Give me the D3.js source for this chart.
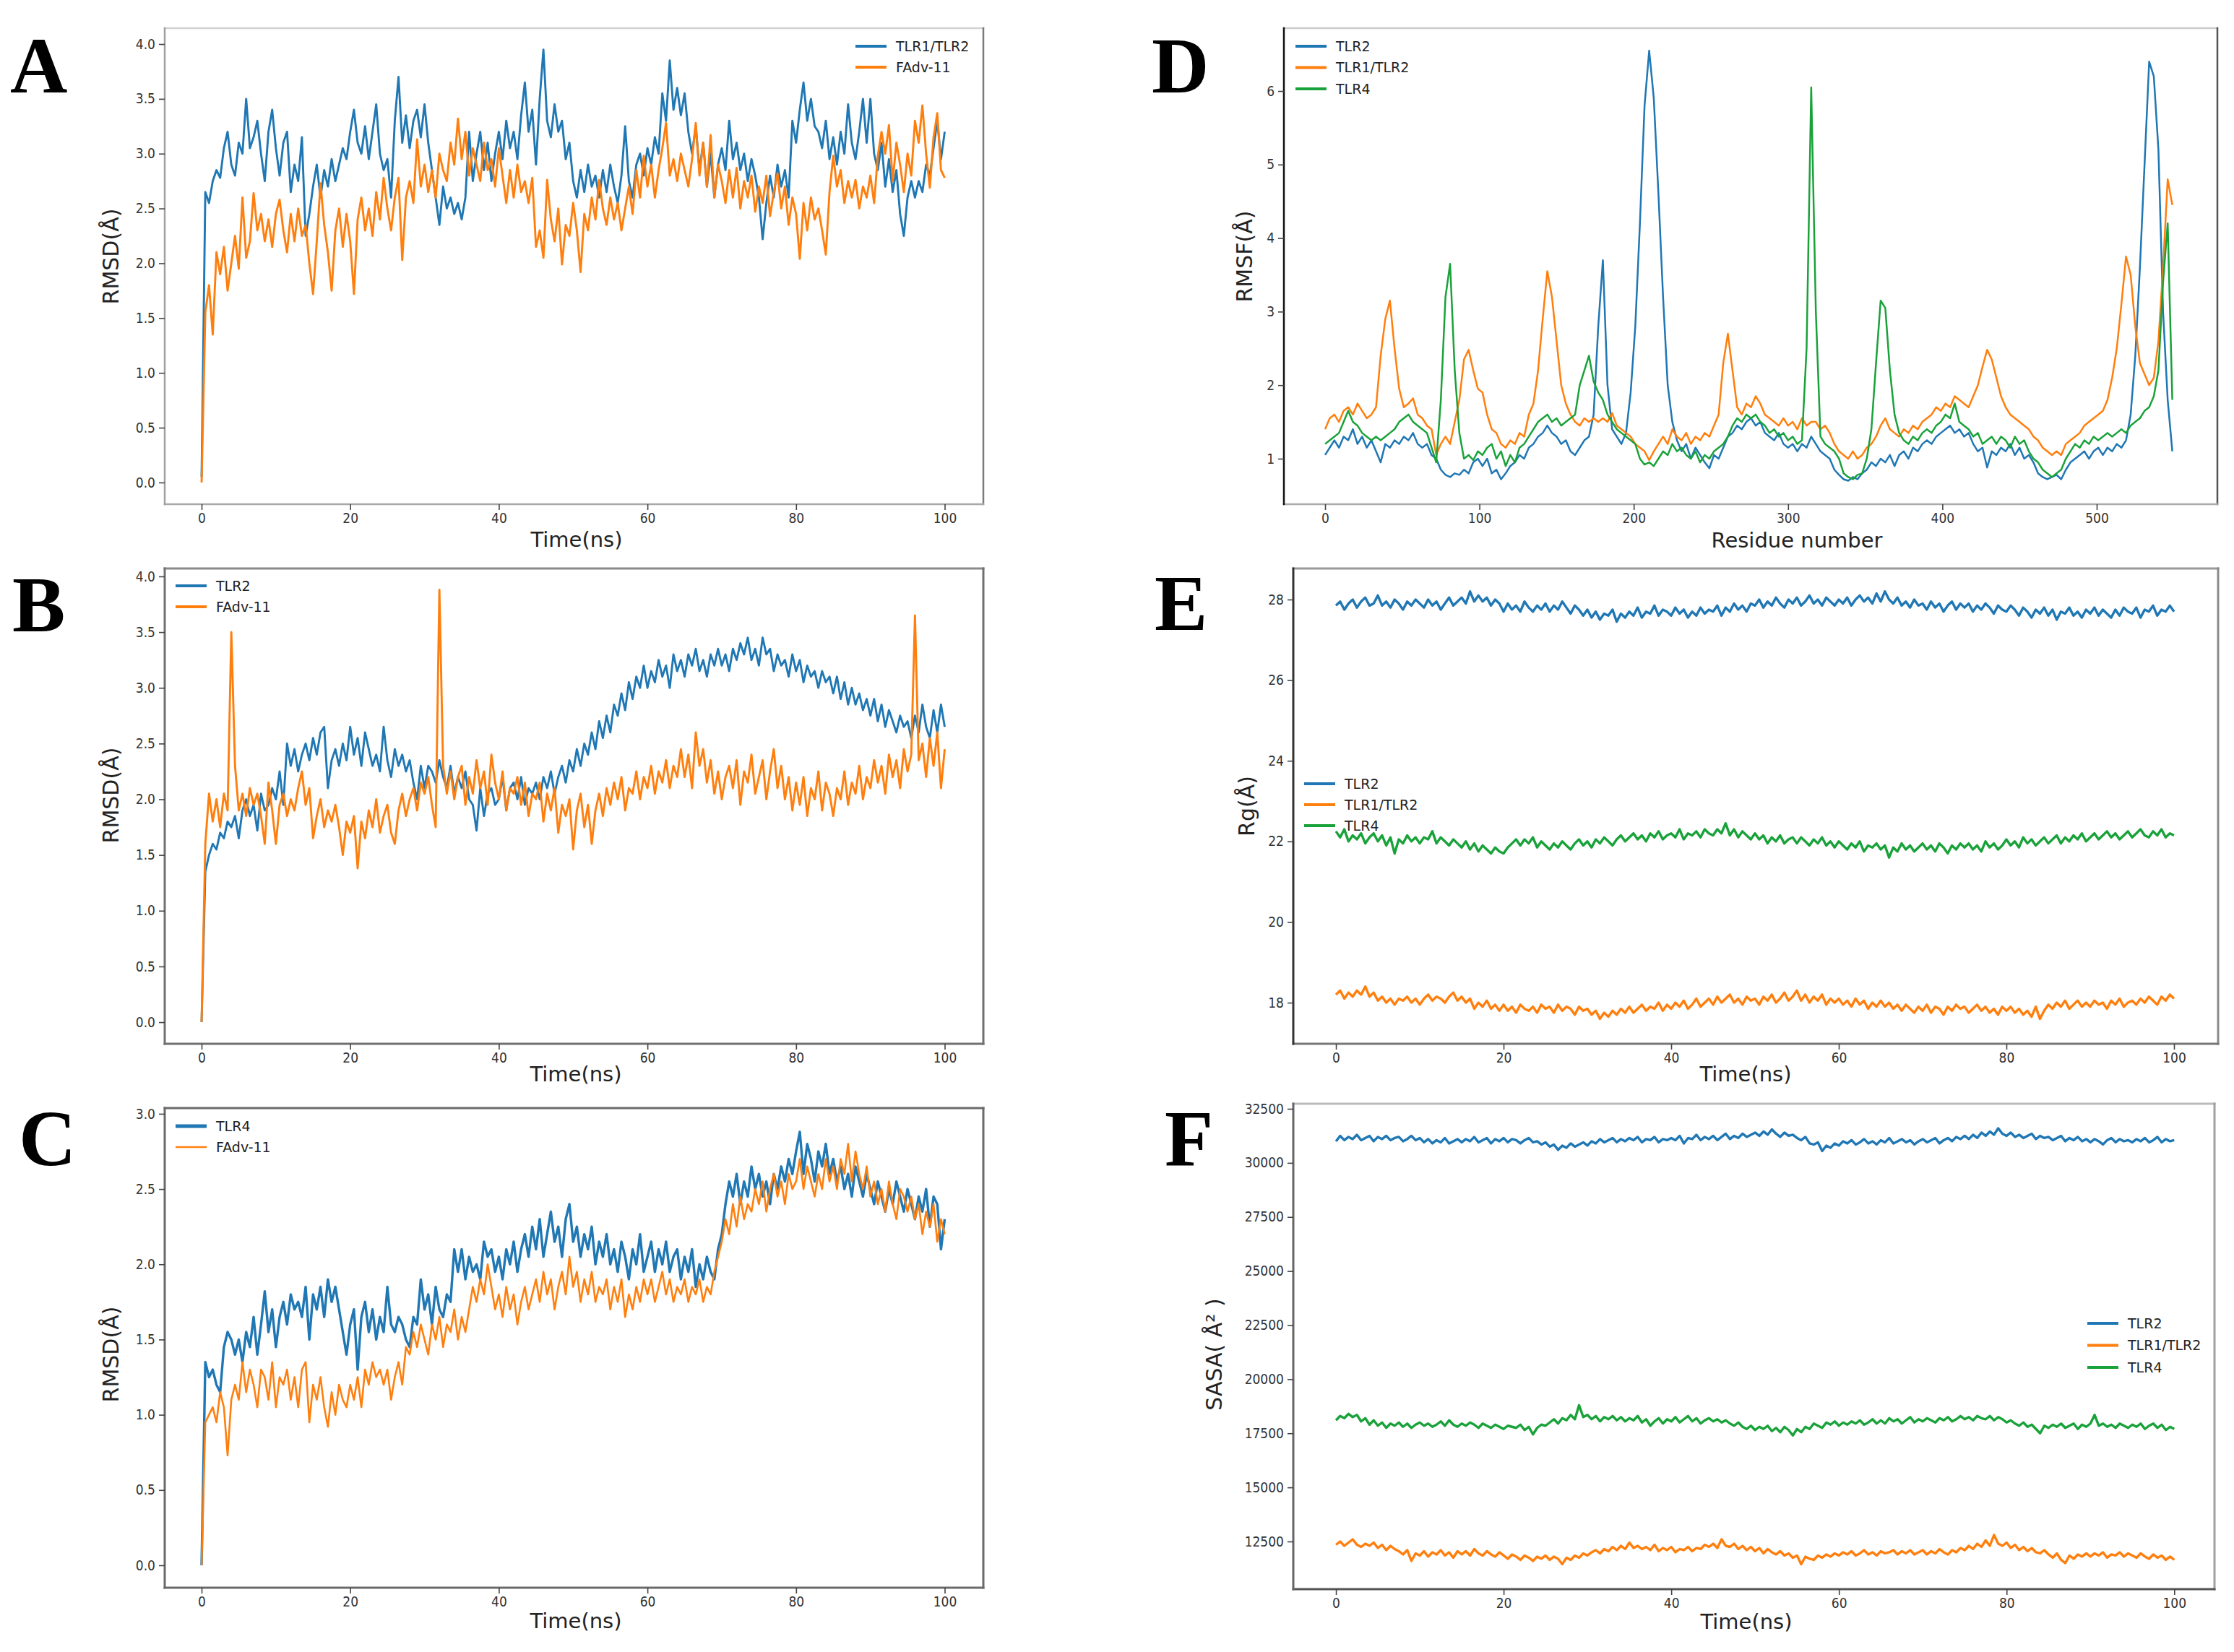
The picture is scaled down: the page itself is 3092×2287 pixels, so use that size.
<!DOCTYPE html>
<html>
<head>
<meta charset="utf-8">
<script src="https://cdn.jsdelivr.net/npm/d3@7"></script>
<style>
  body { margin: 0; background: #fff; }
  svg { display: block; background: #fff; }
</style>
</head>
<body>
<svg id="fig" width="3092" height="2287"></svg>
<script>
// MD trajectory figure: RMSD (A-C), RMSF (D), Rg (E), SASA (F)

/* ---------- Data ---------- */

// sampling grids
const timeStep = 0.5;      // ns, panels A B C E F
const residueStep = 3;     // panel D

// A: RMSD, TLR1/TLR2 vs FAdv-11
const rmsdA_tlr12 = [
  0.05,2.65,2.55,2.75,2.85,2.78,3.05,3.2,2.9,2.8,
  3.1,3.0,3.5,3.05,3.15,3.3,3.0,2.75,3.2,3.4,
  3.05,2.8,3.1,3.2,2.65,2.9,2.75,3.15,2.25,2.45,
  2.7,2.9,2.6,2.85,2.7,2.95,2.75,2.9,3.05,2.95,
  3.2,3.4,3.1,3.0,3.25,2.95,3.2,3.45,3.0,2.85,
  2.95,2.6,3.3,3.7,3.1,3.35,3.05,3.3,3.4,3.15,
  3.45,3.1,2.85,2.6,2.35,2.7,2.5,2.6,2.45,2.55,
  2.4,2.6,3.2,2.75,3.0,3.2,2.85,3.1,2.75,3.0,
  3.2,2.95,3.3,3.05,3.2,2.95,3.35,3.65,3.2,3.4,
  2.9,3.5,3.95,3.3,3.15,3.45,3.2,3.3,2.95,3.1,
  2.75,2.6,2.85,2.65,2.9,2.7,2.8,2.6,2.85,2.65,
  2.9,2.7,2.55,2.8,3.25,2.75,2.6,2.9,3.0,2.8,
  3.05,2.9,3.15,3.0,3.55,3.3,3.85,3.4,3.6,3.35,
  3.55,3.2,3.0,3.25,2.85,3.1,2.7,3.0,2.6,2.9,
  3.05,2.85,3.3,2.95,3.1,2.85,3.0,2.75,2.95,2.8,
  2.6,2.22,2.55,2.8,2.6,2.9,2.7,2.85,2.6,3.3,
  3.1,3.4,3.65,3.3,3.5,3.25,3.2,3.05,3.3,2.95,
  3.15,2.9,3.2,3.0,3.45,3.1,2.95,3.2,3.5,3.1,
  3.5,3.0,2.85,3.1,2.7,2.95,2.65,2.85,2.45,2.25,
  2.6,2.75,2.6,2.75,2.65,2.9,2.8,3.05,3.3,2.95,
  3.2];
const rmsdA_fadv = [
  0.0,1.55,1.8,1.35,2.1,1.9,2.15,1.75,2.0,2.25,
  1.95,2.6,2.05,2.2,2.64,2.3,2.45,2.2,2.4,2.15,
  2.45,2.58,2.3,2.1,2.45,2.2,2.5,2.25,2.35,2.0,
  1.72,2.2,2.73,2.35,2.1,1.75,2.3,2.5,2.15,2.45,
  2.2,1.72,2.4,2.6,2.3,2.5,2.25,2.65,2.4,2.78,
  2.5,2.3,2.6,2.78,2.03,2.6,2.75,2.55,3.13,2.7,
  2.9,2.65,2.85,2.6,3.0,2.85,2.75,3.1,2.9,3.32,
  2.95,3.2,2.8,3.05,2.9,2.75,3.1,2.85,2.95,2.7,
  3.05,2.8,2.55,2.85,2.6,2.9,2.65,2.75,2.55,2.78,
  2.15,2.3,2.05,2.76,2.4,2.2,2.5,1.99,2.35,2.25,
  2.55,2.3,1.92,2.45,2.3,2.6,2.4,2.76,2.5,2.35,
  2.6,2.4,2.55,2.3,2.5,2.7,2.45,2.85,2.6,2.98,
  2.7,2.9,2.6,2.85,3.05,3.28,2.8,2.95,2.75,3.0,
  2.85,2.7,2.95,3.28,2.8,3.1,2.7,3.17,2.6,2.9,
  2.75,2.55,2.85,2.6,2.87,2.5,2.75,2.6,2.8,2.47,
  2.7,2.55,2.8,2.43,2.65,2.82,2.5,2.7,2.35,2.6,
  2.45,2.04,2.55,2.3,2.6,2.4,2.5,2.3,2.08,2.65,
  2.98,2.7,2.85,2.55,2.75,2.6,2.76,2.5,2.7,2.6,
  2.8,2.55,2.98,3.2,3.0,3.26,2.75,3.1,2.9,2.65,
  3.0,2.8,3.3,3.1,3.44,3.0,2.69,3.15,3.37,2.85,
  2.78];

// B: RMSD, TLR2 vs FAdv-11
const rmsdB_tlr2 = [
  0.0,1.35,1.5,1.6,1.55,1.7,1.65,1.8,1.75,1.85,
  1.65,1.9,2.0,1.85,1.95,1.72,2.05,1.9,1.95,2.1,
  2.0,2.25,1.95,2.5,2.3,2.45,2.25,2.4,2.5,2.35,
  2.55,2.4,2.6,2.65,2.1,2.35,2.45,2.3,2.5,2.35,
  2.65,2.4,2.55,2.3,2.6,2.45,2.3,2.4,2.25,2.65,
  2.35,2.2,2.45,2.3,2.4,2.25,2.35,2.15,2.0,2.3,
  2.1,2.3,2.25,2.15,2.35,2.2,2.1,2.3,2.05,2.2,
  2.1,2.25,2.0,1.95,1.72,2.1,1.85,2.05,2.1,1.95,
  2.0,2.2,1.9,2.1,2.15,2.0,2.2,1.95,2.1,2.05,
  2.15,2.0,2.2,2.1,2.25,2.05,2.2,2.3,2.15,2.35,
  2.25,2.45,2.3,2.5,2.4,2.6,2.45,2.7,2.55,2.75,
  2.6,2.85,2.75,2.95,2.8,3.05,2.9,3.1,3.0,3.2,
  3.0,3.15,3.05,3.25,3.1,3.2,3.0,3.3,3.15,3.25,
  3.1,3.3,3.2,3.35,3.15,3.25,3.1,3.3,3.2,3.35,
  3.2,3.3,3.15,3.35,3.25,3.4,3.3,3.45,3.25,3.35,
  3.2,3.45,3.3,3.35,3.15,3.3,3.2,3.25,3.1,3.3,
  3.15,3.25,3.05,3.2,3.1,3.15,3.0,3.15,3.05,3.1,
  2.95,3.1,2.9,3.05,2.85,3.0,2.85,2.95,2.8,2.9,
  2.75,2.9,2.7,2.85,2.65,2.8,2.7,2.6,2.75,2.65,
  2.7,2.55,2.75,2.6,2.85,2.65,2.55,2.8,2.6,2.85,
  2.65];
const rmsdB_fadv = [
  0.0,1.6,2.05,1.8,2.0,1.75,2.05,1.9,3.5,2.3,
  1.9,2.05,1.85,2.1,1.95,2.05,1.85,1.6,2.15,1.9,
  1.6,1.95,2.05,1.85,2.0,1.9,2.1,2.25,1.95,2.1,
  1.65,1.85,2.0,1.75,1.9,1.8,1.95,1.75,1.5,1.8,
  1.7,1.85,1.38,1.8,1.65,1.9,1.75,2.0,1.7,1.85,
  1.95,1.7,1.6,1.9,2.05,1.85,2.0,2.1,1.9,2.15,
  2.05,2.2,1.95,1.75,3.88,2.3,2.05,2.25,2.0,2.2,
  2.3,1.95,2.2,2.05,2.35,2.1,2.25,1.95,2.4,2.15,
  2.0,2.25,1.9,2.1,2.05,2.2,1.95,2.15,1.85,2.05,
  2.0,2.15,1.8,2.05,1.9,2.1,1.7,1.95,1.85,2.0,
  1.55,1.9,2.05,1.75,1.95,1.6,1.9,2.05,1.85,2.1,
  1.95,2.15,2.0,2.2,1.9,2.1,2.05,2.25,2.0,2.2,
  2.1,2.3,2.05,2.25,2.15,2.35,2.1,2.3,2.2,2.45,
  2.2,2.4,2.1,2.6,2.3,2.45,2.15,2.35,2.05,2.25,
  2.0,2.2,2.3,2.1,2.35,1.95,2.25,2.15,2.4,2.05,
  2.2,2.35,2.0,2.25,2.45,2.1,2.3,2.0,2.2,1.9,
  2.15,1.95,2.2,1.85,2.1,2.0,2.25,1.9,2.15,2.05,
  1.85,2.1,2.0,2.25,1.95,2.15,2.05,2.3,2.0,2.2,
  2.1,2.35,2.15,2.3,2.05,2.4,2.2,2.35,2.1,2.45,
  2.25,2.4,3.65,2.35,2.5,2.2,2.55,2.3,2.6,2.1,
  2.45];

// C: RMSD, TLR4 vs FAdv-11
const rmsdC_tlr4 = [
  0.0,1.35,1.25,1.3,1.2,1.15,1.45,1.55,1.5,1.4,
  1.5,1.35,1.55,1.45,1.65,1.4,1.6,1.82,1.55,1.7,
  1.45,1.65,1.75,1.6,1.8,1.7,1.75,1.65,1.85,1.5,
  1.8,1.7,1.85,1.65,1.9,1.75,1.85,1.7,1.55,1.4,
  1.6,1.7,1.3,1.65,1.75,1.55,1.7,1.5,1.65,1.55,
  1.85,1.6,1.55,1.65,1.6,1.5,1.45,1.65,1.6,1.9,
  1.7,1.8,1.6,1.85,1.7,1.65,1.8,1.75,2.1,1.95,
  2.1,1.9,2.05,1.95,2.0,1.9,2.15,2.05,2.1,1.95,
  2.05,1.9,2.1,2.0,2.15,1.95,2.1,2.2,2.05,2.25,
  2.1,2.3,2.05,2.2,2.35,2.15,2.25,2.05,2.3,2.4,
  2.15,2.25,2.05,2.2,2.1,2.25,2.0,2.15,2.05,2.2,
  2.0,2.1,1.95,2.15,2.05,1.9,2.1,2.0,2.2,1.95,
  2.05,2.15,1.95,2.1,2.0,2.15,1.95,2.05,2.1,1.9,
  2.05,1.95,2.1,1.85,2.0,1.9,2.05,1.95,1.9,2.1,
  2.2,2.4,2.55,2.45,2.6,2.4,2.55,2.45,2.65,2.5,
  2.6,2.45,2.55,2.4,2.6,2.5,2.65,2.55,2.7,2.6,
  2.75,2.88,2.6,2.8,2.7,2.55,2.75,2.65,2.8,2.6,
  2.7,2.55,2.65,2.5,2.6,2.45,2.65,2.55,2.45,2.6,
  2.5,2.4,2.55,2.45,2.35,2.5,2.4,2.55,2.45,2.35,
  2.5,2.4,2.3,2.45,2.35,2.5,2.25,2.45,2.4,2.1,
  2.3];
const rmsdC_fadv = [
  0.0,0.95,1.0,1.05,0.95,1.15,1.05,0.73,1.1,1.2,
  1.1,1.35,1.15,1.3,1.2,1.05,1.3,1.25,1.1,1.35,
  1.05,1.25,1.2,1.3,1.1,1.25,1.05,1.3,1.35,0.95,
  1.2,1.1,1.25,1.05,0.92,1.15,1.0,1.2,1.1,1.05,
  1.2,1.1,1.25,1.05,1.3,1.2,1.35,1.25,1.3,1.2,
  1.3,1.1,1.25,1.35,1.2,1.45,1.4,1.55,1.45,1.6,
  1.5,1.4,1.6,1.5,1.65,1.45,1.6,1.55,1.7,1.5,
  1.65,1.55,1.7,1.85,1.75,1.9,1.8,2.0,1.85,1.7,
  1.8,1.65,1.85,1.7,1.8,1.6,1.75,1.85,1.7,1.8,
  1.9,1.75,1.95,1.8,1.9,1.7,1.85,1.95,1.8,2.05,
  1.85,1.95,1.75,1.9,1.8,1.95,1.75,1.85,1.8,1.9,
  1.7,1.85,1.75,1.9,1.65,1.8,1.7,1.85,1.75,1.9,
  1.8,1.9,1.75,1.85,1.95,1.8,1.9,1.75,1.85,1.8,
  1.9,1.75,1.85,1.8,1.9,1.75,1.85,1.8,1.95,2.05,
  2.15,2.3,2.2,2.4,2.25,2.45,2.3,2.4,2.35,2.5,
  2.4,2.55,2.35,2.5,2.6,2.45,2.55,2.4,2.6,2.5,
  2.55,2.7,2.5,2.65,2.55,2.45,2.6,2.5,2.7,2.55,
  2.65,2.5,2.7,2.6,2.8,2.55,2.75,2.6,2.5,2.65,
  2.45,2.55,2.4,2.5,2.35,2.55,2.4,2.3,2.5,2.45,
  2.35,2.45,2.3,2.4,2.2,2.35,2.25,2.4,2.15,2.3,
  2.2];

// D: RMSF per residue (every 3rd residue, 0..549)
const rmsf_tlr2 = [
  1.05,1.15,1.25,1.15,1.3,1.25,1.4,1.2,1.3,1.15,
  1.25,1.1,0.95,1.2,1.15,1.25,1.2,1.3,1.25,1.35,
  1.2,1.15,1.2,1.05,1.0,0.85,0.78,0.75,0.8,0.78,
  0.85,0.8,0.95,1.0,0.9,1.0,0.8,0.85,0.72,0.8,
  0.9,0.95,1.05,1.0,1.15,1.2,1.3,1.35,1.45,1.35,
  1.3,1.2,1.25,1.1,1.05,1.15,1.25,1.3,1.6,2.8,
  3.7,2.0,1.4,1.3,1.2,1.35,1.9,2.8,4.2,5.8,
  6.55,5.9,4.6,3.2,2.0,1.5,1.25,1.1,1.2,1.0,
  1.15,1.05,0.95,0.87,1.05,1.0,1.15,1.3,1.35,1.45,
  1.4,1.5,1.55,1.45,1.5,1.35,1.3,1.25,1.35,1.2,
  1.15,1.2,1.1,1.2,1.15,1.3,1.2,1.1,1.05,1.0,
  0.85,0.78,0.72,0.7,0.75,0.72,0.8,0.85,0.95,0.9,
  1.0,0.95,1.05,0.9,1.05,1.1,1.0,1.15,1.1,1.2,
  1.25,1.2,1.3,1.35,1.4,1.45,1.35,1.4,1.3,1.35,
  1.2,1.1,1.15,0.88,1.1,1.05,1.15,1.1,1.2,1.05,
  1.15,1.0,1.05,0.95,0.8,0.75,0.72,0.75,0.78,0.72,
  0.85,0.95,1.0,1.05,1.1,1.0,1.1,1.15,1.05,1.15,
  1.1,1.2,1.15,1.25,1.6,2.4,3.6,5.0,6.4,6.2,
  5.2,3.0,1.8,1.1];
const rmsf_tlr12 = [
  1.4,1.55,1.6,1.5,1.65,1.7,1.6,1.75,1.65,1.55,
  1.6,1.7,2.4,2.9,3.15,2.5,1.95,1.7,1.75,1.82,
  1.6,1.55,1.45,1.4,1.05,1.2,1.3,1.2,1.5,1.8,
  2.35,2.48,2.2,1.95,1.9,1.6,1.4,1.35,1.2,1.15,
  1.25,1.2,1.35,1.3,1.6,1.75,2.2,2.9,3.55,3.2,
  2.6,2.0,1.75,1.6,1.5,1.45,1.55,1.5,1.55,1.5,
  1.55,1.5,1.62,1.45,1.4,1.35,1.3,1.2,1.15,1.1,
  0.98,1.1,1.2,1.3,1.2,1.4,1.3,1.25,1.35,1.2,
  1.3,1.25,1.35,1.3,1.45,1.6,2.3,2.7,2.2,1.7,
  1.6,1.75,1.7,1.85,1.75,1.6,1.55,1.5,1.45,1.55,
  1.45,1.5,1.4,1.55,1.45,1.5,1.5,1.4,1.45,1.35,
  1.2,1.1,1.05,1.0,1.1,1.0,1.05,1.15,1.2,1.3,
  1.45,1.55,1.4,1.35,1.3,1.4,1.35,1.45,1.4,1.5,
  1.55,1.6,1.7,1.65,1.75,1.7,1.85,1.8,1.75,1.7,
  1.85,2.0,2.25,2.48,2.35,2.1,1.85,1.7,1.6,1.55,
  1.5,1.45,1.4,1.3,1.25,1.15,1.1,1.05,1.1,1.05,
  1.2,1.25,1.3,1.35,1.45,1.5,1.55,1.6,1.65,1.8,
  2.1,2.5,3.1,3.75,3.5,2.8,2.3,2.15,2.0,2.1,
  2.6,3.6,4.8,4.45];
const rmsf_tlr4 = [
  1.2,1.25,1.3,1.35,1.5,1.65,1.5,1.45,1.35,1.3,
  1.25,1.3,1.25,1.3,1.35,1.4,1.5,1.55,1.6,1.5,
  1.45,1.4,1.35,1.15,0.95,1.8,3.2,3.65,2.2,1.35,
  1.0,1.05,0.98,1.1,1.05,1.15,1.2,1.0,1.1,0.9,
  1.05,0.95,1.15,1.2,1.3,1.4,1.5,1.55,1.6,1.5,
  1.55,1.45,1.5,1.55,1.6,2.0,2.2,2.4,2.05,1.9,
  1.8,1.6,1.5,1.4,1.35,1.3,1.25,1.2,1.0,0.92,
  0.95,0.9,1.0,1.1,1.05,1.2,1.1,1.15,1.05,1.0,
  1.1,0.95,1.05,1.0,1.1,1.15,1.2,1.3,1.45,1.55,
  1.5,1.6,1.55,1.6,1.5,1.45,1.35,1.4,1.3,1.35,
  1.25,1.3,1.2,1.25,2.5,6.05,3.0,1.3,1.2,1.15,
  1.1,1.0,0.8,0.75,0.72,0.78,0.8,1.0,1.4,2.3,
  3.15,3.05,2.2,1.6,1.35,1.25,1.2,1.3,1.25,1.35,
  1.4,1.35,1.45,1.5,1.6,1.55,1.75,1.5,1.45,1.4,
  1.3,1.35,1.2,1.25,1.3,1.2,1.3,1.25,1.15,1.3,
  1.2,1.25,1.1,1.0,0.95,0.85,0.8,0.75,0.8,0.85,
  1.0,1.1,1.2,1.15,1.25,1.2,1.3,1.25,1.3,1.35,
  1.3,1.35,1.4,1.35,1.45,1.5,1.55,1.65,1.7,1.85,
  2.2,3.4,4.2,1.8];

// E: radius of gyration
const rg_tlr2 = [
  27.85,27.95,27.75,27.9,28.0,27.8,27.95,28.05,27.85,27.9,
  28.1,27.85,27.95,27.8,28.0,27.9,27.75,27.95,27.85,28.0,
  27.9,27.8,28.0,27.85,27.95,27.75,27.9,28.05,27.85,27.95,
  28.05,27.9,28.2,27.95,28.1,27.95,28.05,27.85,28.0,27.9,
  27.7,27.9,27.75,27.85,27.7,27.95,27.8,27.7,27.85,27.75,
  27.9,27.7,27.85,27.75,27.95,27.8,27.65,27.85,27.75,27.6,
  27.75,27.55,27.7,27.5,27.65,27.6,27.75,27.45,27.65,27.55,
  27.7,27.6,27.8,27.55,27.7,27.65,27.85,27.6,27.75,27.7,
  27.6,27.8,27.65,27.75,27.55,27.7,27.6,27.8,27.65,27.75,
  27.7,27.85,27.6,27.8,27.7,27.9,27.75,27.85,27.7,27.9,
  27.85,28.0,27.8,27.95,27.85,28.05,27.9,27.8,28.0,27.9,
  28.05,27.85,27.95,28.1,27.9,28.0,27.85,28.05,27.95,27.85,
  28.0,27.9,28.05,27.85,28.0,28.1,27.95,28.05,27.9,28.15,
  27.95,28.2,28.0,27.9,28.05,27.85,27.95,27.8,28.0,27.85,
  27.9,27.75,27.95,27.8,27.9,27.7,27.85,27.95,27.75,27.9,
  27.8,27.9,27.7,27.85,27.75,27.9,27.8,27.65,27.85,27.75,
  27.7,27.85,27.75,27.6,27.8,27.7,27.55,27.75,27.65,27.8,
  27.6,27.75,27.5,27.7,27.65,27.8,27.6,27.7,27.55,27.75,
  27.65,27.8,27.6,27.75,27.65,27.55,27.75,27.6,27.8,27.7,
  27.65,27.8,27.55,27.75,27.7,27.85,27.6,27.75,27.7,27.85,
  27.7];
const rg_tlr12 = [
  18.2,18.3,18.1,18.25,18.15,18.3,18.2,18.4,18.15,18.25,
  18.05,18.15,18.0,18.1,17.95,18.1,18.05,18.15,18.0,18.1,
  17.95,18.1,18.2,18.05,18.15,18.1,18.0,18.15,18.25,18.05,
  18.15,18.0,18.1,17.85,18.0,17.9,18.05,17.85,17.95,17.8,
  17.95,17.8,17.9,17.75,17.95,17.85,17.8,17.9,17.75,17.95,
  17.85,17.9,17.75,17.95,17.8,17.9,17.85,17.7,17.9,17.8,
  17.85,17.7,17.8,17.6,17.75,17.65,17.8,17.7,17.85,17.75,
  17.9,17.75,17.85,17.95,17.8,17.9,17.85,18.0,17.8,17.95,
  17.85,18.0,17.9,18.05,17.85,17.95,18.1,17.9,18.0,18.1,
  17.95,18.15,18.0,18.1,18.2,18.0,18.1,17.95,18.15,18.05,
  18.1,17.95,18.15,18.05,18.2,18.0,18.1,18.25,18.05,18.15,
  18.3,18.05,18.2,18.0,18.15,18.05,18.2,17.95,18.1,18.0,
  18.1,17.95,18.05,17.9,18.1,17.95,18.05,17.85,18.0,17.9,
  18.05,17.9,18.0,17.85,17.95,17.8,17.95,17.85,17.75,17.9,
  17.8,17.95,17.75,17.9,17.85,17.7,17.9,17.8,17.95,17.85,
  17.9,17.75,17.85,17.95,17.8,17.9,17.75,17.85,17.7,17.9,
  17.8,17.9,17.75,17.85,17.7,17.8,17.65,17.9,17.6,17.8,
  17.95,17.85,18.0,17.9,18.05,17.85,17.95,18.05,17.9,18.0,
  17.9,18.05,17.95,18.0,17.85,18.05,17.95,18.1,17.9,18.0,
  18.05,17.95,18.1,18.0,18.15,18.05,17.95,18.15,18.05,18.2,
  18.1];
const rg_tlr4 = [
  22.25,22.1,22.3,22.0,22.15,22.05,22.2,21.95,22.1,22.2,
  22.0,22.15,21.9,22.1,21.7,22.05,21.95,22.15,22.0,22.1,
  21.95,22.1,22.05,22.25,21.95,22.1,22.0,21.9,22.05,21.95,
  21.85,22.0,21.8,21.95,21.75,21.9,21.8,21.7,21.85,21.75,
  21.7,21.85,21.95,22.05,21.9,22.05,21.95,22.1,21.85,22.0,
  21.9,21.8,21.95,21.85,22.0,21.9,21.8,21.95,22.05,21.9,
  22.0,21.85,22.05,21.95,22.1,22.0,21.9,22.05,22.15,22.0,
  22.1,22.2,22.05,22.15,22.0,22.2,22.1,22.25,22.05,22.15,
  22.2,22.1,22.3,22.05,22.2,22.15,22.25,22.1,22.3,22.2,
  22.15,22.3,22.2,22.45,22.15,22.3,22.1,22.25,22.15,22.05,
  22.2,22.05,22.15,21.95,22.1,22.0,22.15,21.95,22.05,22.1,
  21.95,22.1,22.0,21.9,22.05,21.95,22.1,21.9,22.0,21.85,
  22.0,21.9,21.8,21.95,21.85,22.0,21.75,21.9,21.85,21.95,
  21.8,21.9,21.6,21.85,21.75,21.95,21.8,21.9,21.75,21.85,
  21.95,21.8,21.9,21.75,21.95,21.85,21.7,21.9,21.8,21.95,
  21.85,21.95,21.8,21.9,21.75,22.0,21.85,21.95,21.8,21.9,
  22.05,21.9,22.0,21.85,22.1,21.95,22.05,21.9,22.0,22.1,
  21.95,22.05,22.15,21.95,22.1,22.0,22.15,22.05,22.2,22.0,
  22.1,22.2,22.05,22.15,22.25,22.1,22.2,22.05,22.15,22.25,
  22.1,22.2,22.3,22.15,22.1,22.25,22.15,22.3,22.1,22.2,
  22.15];

// F: solvent accessible surface area
const sasa_tlr2 = [
  31000,31250,31050,31200,31100,31300,31050,31150,31250,31000,
  31200,31100,31250,31050,31150,31200,31000,31100,31250,31050,
  31150,30950,31100,30900,31050,30950,31150,30900,31000,31100,
  30950,31100,31000,31200,30950,31050,31150,30900,31100,31000,
  31150,30950,31100,31050,30900,31050,31150,30950,31000,30850,
  30950,30750,30850,30600,30800,30700,30900,30750,30850,30950,
  30800,31000,30900,31100,30950,31050,31150,30950,31100,31000,
  31150,31050,31200,30950,31100,31050,31200,30950,31100,31050,
  31150,31050,31250,30900,31150,31100,31300,31050,31200,31100,
  31250,31050,31200,31350,31100,31250,31150,31350,31200,31300,
  31400,31250,31450,31300,31550,31350,31200,31400,31250,31300,
  31150,31050,31200,30900,30850,30950,30550,30800,30700,30900,
  30800,31000,30900,31050,30850,30950,31100,30900,31000,30850,
  31050,30950,31150,30900,31000,31100,30950,31050,30850,31000,
  31100,30950,31050,31150,30900,31050,31150,31000,31200,31100,
  31250,31100,31300,31150,31400,31250,31450,31300,31600,31350,
  31250,31400,31200,31300,31150,31250,31350,31100,31250,31150,
  31200,31050,31150,31250,31000,31150,31050,31200,31000,31100,
  30950,31100,31000,30850,31050,31150,30950,31100,31000,31050,
  30950,31100,31000,31150,30950,31050,31200,30950,31100,31000,
  31050];
const sasa_tlr12 = [
  12350,12500,12300,12450,12600,12350,12250,12400,12300,12450,
  12200,12350,12100,12300,12150,12050,11900,12100,11600,11950,
  11850,12050,11800,12000,11900,12100,11850,12000,11750,12050,
  11900,12050,11850,12150,11950,11850,12050,11900,11800,12000,
  11850,11700,11900,11800,11650,11850,11750,11600,11800,11700,
  11850,11650,11800,11700,11450,11750,11650,11850,11750,11950,
  11850,12000,12100,11950,12150,12050,12250,12100,12300,12150,
  12450,12200,12300,12150,12250,12100,12350,12050,12200,12100,
  12250,12000,12150,12100,12250,12050,12200,12150,12350,12250,
  12400,12200,12600,12300,12250,12400,12150,12300,12100,12250,
  12050,12200,11950,12150,12000,11900,12050,11850,11950,11750,
  11850,11450,11800,11700,11650,11850,11750,11900,11800,11950,
  11850,12000,11900,12050,11850,11950,12100,11900,12000,11850,
  12050,11950,12000,12100,11900,12050,11950,12100,11900,12000,
  12100,11900,12050,11950,12150,12000,11900,12100,12000,12200,
  12100,12300,12150,12400,12250,12550,12300,12800,12400,12300,
  12450,12200,12350,12100,12250,12050,12200,12000,11950,12100,
  11900,11750,11950,11650,11500,11850,11700,11900,11800,11950,
  11800,11950,11850,12000,11750,11900,11850,12000,11800,11950,
  11850,11750,11950,11800,11700,11900,11750,11850,11650,11800,
  11650];
const sasa_tlr4 = [
  18100,18300,18200,18400,18250,18350,18050,18200,17900,18100,
  17850,18000,17750,17950,17850,18000,17800,17950,17750,17900,
  18000,17850,17950,17800,17900,18050,17850,18100,17900,17800,
  17950,17850,18000,17900,17750,17950,17850,17750,17900,17800,
  17700,17850,17800,17750,17900,17650,17800,17450,17750,17900,
  17850,18000,18150,17950,18200,18100,18350,18150,18800,18250,
  18350,18150,18300,18050,18250,18150,18300,18100,18250,18050,
  18200,18100,18300,18000,18150,17850,18050,18200,17950,18150,
  18050,18250,18000,18150,18300,18050,18200,17950,18100,18200,
  18050,18150,18000,18100,17950,17850,18000,17800,17700,17850,
  17650,17800,17700,17850,17600,17750,17550,17800,17650,17400,
  17700,17550,17800,17700,17950,17850,17750,18000,17900,18050,
  17850,18000,17900,18050,17950,18100,17900,18000,18150,17950,
  18100,17950,18200,18050,18150,17950,18100,18250,18000,18150,
  18050,18200,18100,18000,18200,18100,18250,18050,18150,18300,
  18150,18250,18100,18300,18200,18150,18300,18100,18250,18150,
  18000,18100,17950,17850,18000,17800,17900,17700,17500,17850,
  17750,17900,17800,17950,17750,17850,17950,17700,17900,17800,
  17950,18350,17850,17950,17800,17900,17750,17950,17850,17750,
  17900,17800,17950,17700,17850,17950,17750,17900,17650,17800,
  17700];

// tick labels
const timeTicks = [0, 20, 40, 60, 80, 100];
const residueTicks = [0, 100, 200, 300, 400, 500];
const rmsdTicks4 = [0, 0.5, 1.0, 1.5, 2.0, 2.5, 3.0, 3.5, 4.0];
const rmsdTicks3 = [0, 0.5, 1.0, 1.5, 2.0, 2.5, 3.0];
const rmsfTicks = [1, 2, 3, 4, 5, 6];
const rgTicks = [18, 20, 22, 24, 26, 28];
const sasaTicks = [12500, 15000, 17500, 20000, 22500, 25000, 27500, 30000, 32500];

/* ---------- Styles ---------- */

const BLUE = '#1f77b4';
const ORANGE = '#ff7f0e';
const GREEN = '#1aa23a';

/* ---------- Panel class ---------- */

class MDPanel {

    constructor(svg, cfg) {
        this.svg = svg;
        this.cfg = cfg;
        const b = cfg.box;

        this.xScale = d3.scaleLinear().domain(cfg.xDomain).range([b.x0, b.x1]);
        this.yScale = d3.scaleLinear().domain(cfg.yDomain).range([b.y1, b.y0]);
    }

    draw() {
        this.drawFrame();
        this.drawAxes();
        this.drawLegend();
        this.drawLines();
        this.drawLabels();
    }

    drawFrame() {
        const b = this.cfg.box, f = this.cfg.frame;
        const g = this.svg.append('g');
        const sides = [
            [b.x0, b.y0, b.x1, b.y0, f.top],
            [b.x1, b.y0, b.x1, b.y1, f.right],
            [b.x0, b.y1, b.x1, b.y1, f.bottom],
            [b.x0, b.y0, b.x0, b.y1, f.left]
        ];
        sides.forEach(s => {
            g.append('line')
             .attr('x1', s[0]).attr('y1', s[1])
             .attr('x2', s[2]).attr('y2', s[3])
             .attr('stroke', s[4])
             .attr('stroke-width', f.width)
             .attr('stroke-linecap', 'square');
        });
    }

    drawAxes() {
        const b = this.cfg.box;

        let xAxis = d3.axisBottom(this.xScale)
                      .tickValues(this.cfg.xTicks)
                      .tickSize(8)
                      .tickPadding(5)
                      .tickFormat(d3.format('d'));

        let gx = this.svg.append('g')
                    .attr('transform', `translate(0, ${b.y1})`)
                    .call(xAxis);

        let yAxis = d3.axisLeft(this.yScale)
                      .tickValues(this.cfg.yTicks)
                      .tickSize(8)
                      .tickPadding(5)
                      .tickFormat(this.cfg.yFormat);

        let gy = this.svg.append('g')
                    .attr('transform', `translate(${b.x0}, 0)`)
                    .call(yAxis);

        [gx, gy].forEach(g => {
            g.select('.domain').remove();
            g.selectAll('.tick line').attr('stroke', '#444').attr('stroke-width', 1.6);
            g.selectAll('.tick text')
             .attr('fill', '#333')
             .attr('font-family', '"DejaVu Sans", sans-serif')
             .attr('font-stretch', 'condensed')
             .attr('font-size', 19);
        });
    }

    drawLegend() {
        const lg = this.cfg.legend;
        const g = this.svg.append('g');
        this.cfg.series.forEach((s, i) => {
            const y = lg.y + i * lg.dy;
            g.append('line')
             .attr('x1', lg.x).attr('x2', lg.x + 43)
             .attr('y1', y).attr('y2', y)
             .attr('stroke', s.color)
             .attr('stroke-width', s.legendWidth || 4);
            g.append('text')
             .attr('x', lg.x + 56)
             .attr('y', y)
             .attr('dy', '0.35em')
             .attr('font-family', '"DejaVu Sans", sans-serif')
             .attr('font-size', 19)
             .attr('fill', '#222')
             .text(s.name);
        });
    }

    drawLines() {
        const xs = this.cfg.xs;
        const line = d3.line()
                       .x((d, i) => this.xScale(xs[i]))
                       .y(d => this.yScale(d));

        this.cfg.series.forEach(s => {
            this.svg.append('path')
               .datum(s.values)
               .attr('fill', 'none')
               .attr('stroke', s.color)
               .attr('stroke-width', s.width)
               .attr('stroke-linejoin', 'round')
               .attr('d', line);
        });
    }

    drawLabels() {
        const c = this.cfg;

        // panel letter
        this.svg.append('text')
           .attr('x', c.letter.x).attr('y', c.letter.y)
           .attr('font-family', '"Liberation Serif", "Times New Roman", serif')
           .attr('font-weight', 'bold')
           .attr('font-size', 110)
           .attr('fill', '#000')
           .text(c.letter.text);

        // x label
        this.svg.append('text')
           .attr('x', c.xLabel.x).attr('y', c.xLabel.y)
           .attr('text-anchor', 'middle')
           .attr('dy', '0.35em')
           .attr('font-family', '"DejaVu Sans", sans-serif')
           .attr('font-size', 29)
           .attr('fill', '#222')
           .text(c.xLabel.text);

        // y label
        this.svg.append('text')
           .attr('transform', `translate(${c.yLabel.x}, ${c.yLabel.y}) rotate(-90)`)
           .attr('text-anchor', 'middle')
           .attr('dy', '0.35em')
           .attr('font-family', '"DejaVu Sans", sans-serif')
           .attr('font-size', 30)
           .attr('fill', '#222')
           .text(c.yLabel.text);
    }
}

/* ---------- Build the figure ---------- */

const svg = d3.select('#fig');
const times = d3.range(rmsdA_tlr12.length).map(i => i * timeStep);
const residues = d3.range(rmsf_tlr2.length).map(i => i * residueStep);

const fmt1 = d3.format('.1f');
const fmtInt = d3.format('d');

const panels = [
    {
        letter: {text: 'A', x: 14, y: 128},
        box: {x0: 228, x1: 1361, y0: 39, y1: 698},
        xDomain: [-4.96, 105.2], yDomain: [-0.198, 4.145],
        xTicks: timeTicks, yTicks: rmsdTicks4, yFormat: fmt1,
        xs: times,
        frame: {top: '#d2d2d2', right: '#7c7c7c', bottom: '#a8a8a8', left: '#a0a0a0', width: 2.5},
        legend: {x: 1184, y: 64, dy: 29},
        series: [
            {name: 'TLR1/TLR2', values: rmsdA_tlr12, color: BLUE, width: 2.9},
            {name: 'FAdv-11', values: rmsdA_fadv, color: ORANGE, width: 2.9}
        ],
        xLabel: {text: 'Time(ns)', x: 798, y: 747},
        yLabel: {text: 'RMSD(Å)', x: 153, y: 355}
    },
    {
        letter: {text: 'B', x: 17, y: 874},
        box: {x0: 228, x1: 1361, y0: 787, y1: 1445},
        xDomain: [-4.96, 105.2], yDomain: [-0.194, 4.071],
        xTicks: timeTicks, yTicks: rmsdTicks4, yFormat: fmt1,
        xs: times,
        frame: {top: '#8a8a8a', right: '#707070', bottom: '#707070', left: '#707070', width: 3},
        legend: {x: 243, y: 811, dy: 29},
        series: [
            {name: 'TLR2', values: rmsdB_tlr2, color: BLUE, width: 2.9},
            {name: 'FAdv-11', values: rmsdB_fadv, color: ORANGE, width: 2.9}
        ],
        xLabel: {text: 'Time(ns)', x: 797, y: 1487},
        yLabel: {text: 'RMSD(Å)', x: 153, y: 1101}
    },
    {
        letter: {text: 'C', x: 26, y: 1613},
        box: {x0: 228, x1: 1361, y0: 1534, y1: 2198},
        xDomain: [-4.96, 105.2], yDomain: [-0.149, 3.038],
        xTicks: timeTicks, yTicks: rmsdTicks3, yFormat: fmt1,
        xs: times,
        frame: {top: '#6a6a6a', right: '#6a6a6a', bottom: '#6a6a6a', left: '#6a6a6a', width: 3},
        legend: {x: 243, y: 1559, dy: 29},
        series: [
            {name: 'TLR4', values: rmsdC_tlr4, color: BLUE, width: 3.4, legendWidth: 5},
            {name: 'FAdv-11', values: rmsdC_fadv, color: ORANGE, width: 2.6, legendWidth: 2.5}
        ],
        xLabel: {text: 'Time(ns)', x: 797, y: 2244},
        yLabel: {text: 'RMSD(Å)', x: 153, y: 1875}
    },
    {
        letter: {text: 'D', x: 1594, y: 128},
        box: {x0: 1777, x1: 3069, y0: 39, y1: 698},
        xDomain: [-26.7, 578.2], yDomain: [0.381, 6.855],
        xTicks: residueTicks, yTicks: rmsfTicks, yFormat: fmtInt,
        xs: residues,
        frame: {top: '#cccccc', right: '#555555', bottom: '#aaaaaa', left: '#111111', width: 2.5},
        legend: {x: 1793, y: 64, dy: 29.5},
        series: [
            {name: 'TLR2', values: rmsf_tlr2, color: BLUE, width: 2.5},
            {name: 'TLR1/TLR2', values: rmsf_tlr12, color: ORANGE, width: 2.5},
            {name: 'TLR4', values: rmsf_tlr4, color: GREEN, width: 2.5}
        ],
        xLabel: {text: 'Residue number', x: 2487, y: 748},
        yLabel: {text: 'RMSF(Å)', x: 1722, y: 355}
    },
    {
        letter: {text: 'E', x: 1598, y: 872},
        box: {x0: 1790, x1: 3070, y0: 787, y1: 1445},
        xDomain: [-5.09, 105.26], yDomain: [16.98, 28.77],
        xTicks: timeTicks, yTicks: rgTicks, yFormat: fmtInt,
        xs: times,
        frame: {top: '#9a9a9a', right: '#8a8a8a', bottom: '#777777', left: '#333333', width: 3},
        legend: {x: 1805, y: 1085, dy: 29},
        series: [
            {name: 'TLR2', values: rg_tlr2, color: BLUE, width: 3.4},
            {name: 'TLR1/TLR2', values: rg_tlr12, color: ORANGE, width: 3.4},
            {name: 'TLR4', values: rg_tlr4, color: GREEN, width: 3.4}
        ],
        xLabel: {text: 'Time(ns)', x: 2416, y: 1487},
        yLabel: {text: 'Rg(Å)', x: 1725, y: 1116}
    },
    {
        letter: {text: 'F', x: 1612, y: 1614},
        box: {x0: 1790, x1: 3065, y0: 1528, y1: 2200},
        xDomain: [-5.09, 104.8], yDomain: [10296, 32734],
        xTicks: timeTicks, yTicks: sasaTicks, yFormat: fmtInt,
        xs: times,
        frame: {top: '#bbbbbb', right: '#a0a0a0', bottom: '#555555', left: '#666666', width: 3},
        legend: {x: 2889, y: 1832, dy: 30.5},
        series: [
            {name: 'TLR2', values: sasa_tlr2, color: BLUE, width: 3.4},
            {name: 'TLR1/TLR2', values: sasa_tlr12, color: ORANGE, width: 3.4},
            {name: 'TLR4', values: sasa_tlr4, color: GREEN, width: 3.4}
        ],
        xLabel: {text: 'Time(ns)', x: 2417, y: 2245},
        yLabel: {text: 'SASA( Å² )', x: 1680, y: 1875}
    }
];

panels.forEach(cfg => new MDPanel(svg, cfg).draw());
</script>
</body>
</html>
